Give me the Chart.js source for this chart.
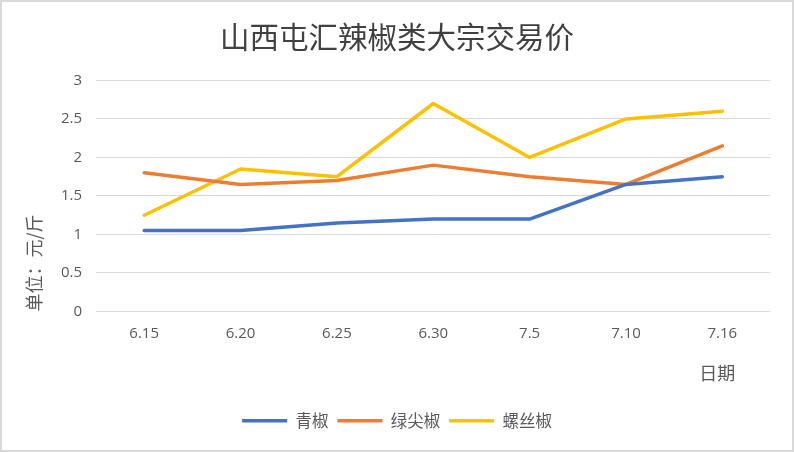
<!DOCTYPE html>
<html>
<head>
<meta charset="utf-8">
<script src="https://cdn.jsdelivr.net/npm/chart.js@4/dist/chart.umd.min.js"></script>
<style>
  html, body { margin: 0; padding: 0; background: #fff; }
  #wrap { width: 794px; height: 452px; box-sizing: border-box; border: 2px solid #d9d9d9; background: #fff; }
  #c { display: block; }
</style>
</head>
<body>
<div id="wrap"><canvas id="c" width="790" height="448"></canvas></div>
<script>
const chartTitle = '山西屯汇辣椒类大宗交易价';
const categories = ['6.15', '6.20', '6.25', '6.30', '7.5', '7.10', '7.16'];
const seriesNames = ['青椒', '绿尖椒', '螺丝椒'];
const qingjiao = [1.05, 1.05, 1.15, 1.2, 1.2, 1.65, 1.75];
const lvjianjiao = [1.8, 1.65, 1.7, 1.9, 1.75, 1.65, 2.15];
const luosijiao = [1.25, 1.85, 1.75, 2.7, 2.0, 2.5, 2.6];
const yTitle = '单位：元/斤';
const xTitle = '日期';
const colors = ['#4472C4', '#ED7D31', '#FFC000'];

const cjk = '"Noto Sans CJK SC", "Noto Sans", sans-serif';
const txt = '#595959';

const xTitlePlugin = {
  id: 'xTitleText',
  afterDraw(chart) {
    const { ctx, scales } = chart;
    const x = scales.x.getPixelForValue(categories.length - 1) - 5;
    const y = chart.chartArea.bottom + 62;
    ctx.save();
    ctx.font = '18px ' + cjk;
    ctx.fillStyle = txt;
    ctx.textAlign = 'center';
    ctx.textBaseline = 'middle';
    ctx.fillText(xTitle, x, y);
    ctx.restore();
  }
};

const mk = (label, data, color) => ({
  label, data,
  borderColor: color, backgroundColor: color,
  borderWidth: 3.5, borderCapStyle: 'round', borderJoinStyle: 'round',
  pointRadius: 0, pointHoverRadius: 0, tension: 0, fill: false
});

new Chart(document.getElementById('c'), {
  type: 'line',
  data: {
    labels: categories,
    datasets: [
      mk(seriesNames[0], qingjiao, colors[0]),
      mk(seriesNames[1], lvjianjiao, colors[1]),
      mk(seriesNames[2], luosijiao, colors[2])
    ]
  },
  options: {
    responsive: false,
    animation: false,
    layout: { padding: { left: 0, right: 0, top: 0, bottom: 11 } },
    plugins: {
      tooltip: { enabled: false },
      title: {
        display: true, text: chartTitle, color: '#404040',
        font: { family: cjk, size: 29.5, weight: 'normal' },
        padding: { top: 17, bottom: 26 }
      },
      legend: {
        position: 'bottom',
        labels: {
          usePointStyle: true, pointStyle: 'line', pointStyleWidth: 45,
          boxHeight: 17, color: txt, padding: 9,
          font: { family: cjk, size: 16.5 }
        }
      }
    },
    scales: {
      x: {
        offset: true,
        grid: { display: false, drawTicks: false },
        border: { display: false },
        ticks: { color: txt, padding: 13, font: { family: '"Open Sans", sans-serif', size: 15 }, maxRotation: 0 },
        afterFit(s) { s.height = 92; }
      },
      y: {
        min: 0, max: 3,
        grid: { color: '#d9d9d9', lineWidth: 1, drawTicks: false },
        border: { display: false },
        ticks: {
          stepSize: 0.5, color: txt, padding: 14,
          font: { family: '"Open Sans", sans-serif', size: 15 },
          callback: v => String(+v.toFixed(1))
        },
        title: {
          display: true, text: yTitle, align: 'start', color: txt,
          font: { family: cjk, size: 18 },
          padding: { top: 21, bottom: 0 }
        },
        afterFit(s) { s.width = 94; }
      },
      yRight: {
        position: 'right', min: 0, max: 3,
        grid: { display: false, drawTicks: false },
        border: { display: false },
        ticks: { display: false },
        afterFit(s) { s.width = 21.5; }
      }
    }
  },
  plugins: [xTitlePlugin]
});
</script>
</body>
</html>
